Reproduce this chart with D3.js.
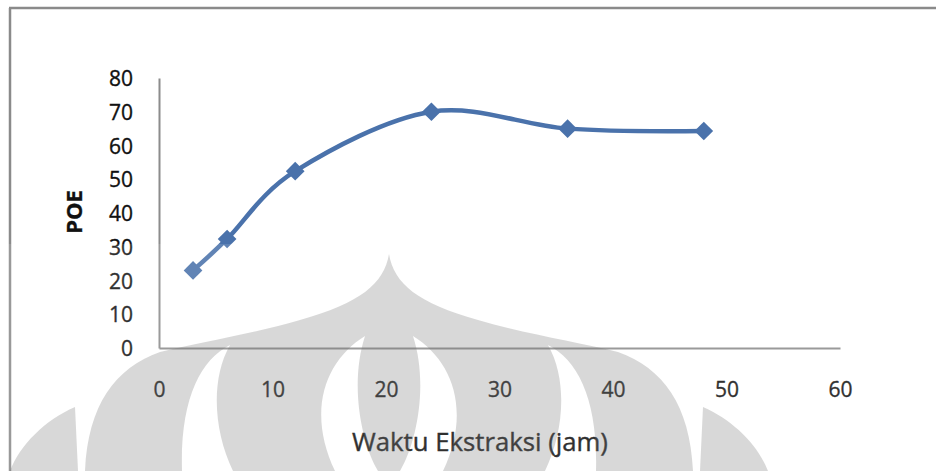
<!DOCTYPE html>
<html>
<head>
<meta charset="utf-8">
<script src="https://cdn.jsdelivr.net/npm/d3@7/dist/d3.min.js"></script>
<style>
  html, body { margin: 0; padding: 0; background: #fff; }
  svg { display: block; }
  .tick text { font-family: "Open Sans", Lato, sans-serif; font-size: 21px; fill: #111;
    stroke: #111; stroke-width: 0.35px; }
</style>
</head>
<body>
<svg id="chart" width="936" height="471"></svg>
<script>
// Extraction time (hours) and POE (%)
const hours = [3, 6, 12, 24, 36, 48];
const poe = [23, 32.3, 52.4, 70, 65, 64.3];
const xTickValues = [0, 10, 20, 30, 40, 50, 60];
const yTickValues = [0, 10, 20, 30, 40, 50, 60, 70, 80];
const xTitle = "Waktu Ekstraksi (jam)";
const yTitle = "POE";

const svg = d3.select("#chart");
const W = 936, H = 471;

const x = d3.scaleLinear().domain([0, 60]).range([159, 840]);
const y = d3.scaleLinear().domain([0, 80]).range([348, 78]);

// page frame (top and left rules)
svg.append("line").attr("x1", 9).attr("x2", W).attr("y1", 8).attr("y2", 8)
  .attr("stroke", "#8a8a8a").attr("stroke-width", 2.5);
svg.append("line").attr("x1", 10).attr("x2", 10).attr("y1", 8).attr("y2", H)
  .attr("stroke", "#8a8a8a").attr("stroke-width", 2.5);

// axes
const gy = svg.append("g").attr("transform", `translate(${x(0)},0)`)
  .call(d3.axisLeft(y).tickValues(yTickValues).tickSize(0).tickPadding(26));
const gx = svg.append("g").attr("transform", `translate(0,${y(0)})`)
  .call(d3.axisBottom(x).tickValues(xTickValues).tickSize(0).tickPadding(34));
[gx, gy].forEach(g => {
  g.select(".domain").attr("stroke", "#8c8c8c").attr("stroke-width", 2);
});
gy.selectAll(".tick text").attr("dy", "0.36em");

// axis titles
const xt = svg.append("text")
  .attr("x", 480).attr("y", 451)
  .attr("text-anchor", "middle")
  .attr("font-family", "'Open Sans', Lato, sans-serif")
  .attr("font-size", 24)
  .attr("fill", "#111").attr("stroke", "#111").attr("stroke-width", 0.4)
  .text(xTitle);
// keep the title at its intended span
const wTitle = xt.node().getComputedTextLength();
xt.attr("font-size", 24 * 256 / wTitle);

svg.append("text")
  .attr("transform", "translate(82,212) rotate(-90)")
  .attr("text-anchor", "middle")
  .attr("font-family", "'Open Sans', Lato, sans-serif")
  .attr("font-weight", "bold")
  .attr("font-size", 22)
  .attr("fill", "#111").attr("stroke", "#111").attr("stroke-width", 0.3)
  .text(yTitle);

// smoothed series line
const pts = hours.map((h, i) => [h, poe[i]]);
const line = d3.line()
  .x(d => x(d[0])).y(d => y(d[1]))
  .curve(d3.curveCardinal.tension(0));
svg.append("path")
  .datum(pts)
  .attr("d", line)
  .attr("fill", "none")
  .attr("stroke", "#4a72ab")
  .attr("stroke-width", 4.5)
  .attr("stroke-linecap", "round");

// diamond markers
const diamond = d3.symbol().type(d3.symbolSquare).size(175);
svg.append("g").selectAll("path")
  .data(pts)
  .join("path")
  .attr("d", diamond)
  .attr("transform", d => `translate(${x(d[0])},${y(d[1])}) rotate(45)`)
  .attr("fill", "#4a72ab");

// translucent watermark emblem over the lower part of the page
const wm = svg.append("g").attr("pointer-events", "none");
wm.append("rect").attr("x", 0).attr("y", 244).attr("width", W).attr("height", H - 244)
  .attr("fill", "#fff").attr("opacity", 0.13);

const cx = 389;
const mirror = px => 2 * cx - px;
// dome outline with the inner light lenses cut out (even-odd)
const lensL1 = "M230,345 C200,360 180,400 182,471 L233,471 C214,432 210,380 230,345 Z";
const lensL2 = "M365,336 C326,360 306,410 335,471 L378,471 C360,440 350,382 365,336 Z";
const mirrorPath = p => p.replace(/(-?\d+(\.\d+)?),(-?\d+(\.\d+)?)/g,
  (m, a, _b, c) => `${mirror(+a)},${c}`);
const dome = "M389,254 C384,284 360,303 300,320 C252,334 200,342 160,352 " +
  "C115,368 88,405 85,471 L693,471 C690,405 663,368 618,352 " +
  "C578,342 526,334 478,320 C418,303 394,284 389,254 Z";
wm.append("path")
  .attr("d", [dome, lensL1, lensL2, mirrorPath(lensL1), mirrorPath(lensL2)].join(" "))
  .attr("fill-rule", "evenodd")
  .attr("fill", "#6e6e6e").attr("fill-opacity", 0.27);
// outer side petals
const petalL = "M75,407 C45,420 20,445 10,471 L78,471 C77,450 76,428 75,407 Z";
wm.append("path").attr("d", petalL + " " + mirrorPath(petalL))
  .attr("fill", "#6e6e6e").attr("fill-opacity", 0.27);
</script>
</body>
</html>
